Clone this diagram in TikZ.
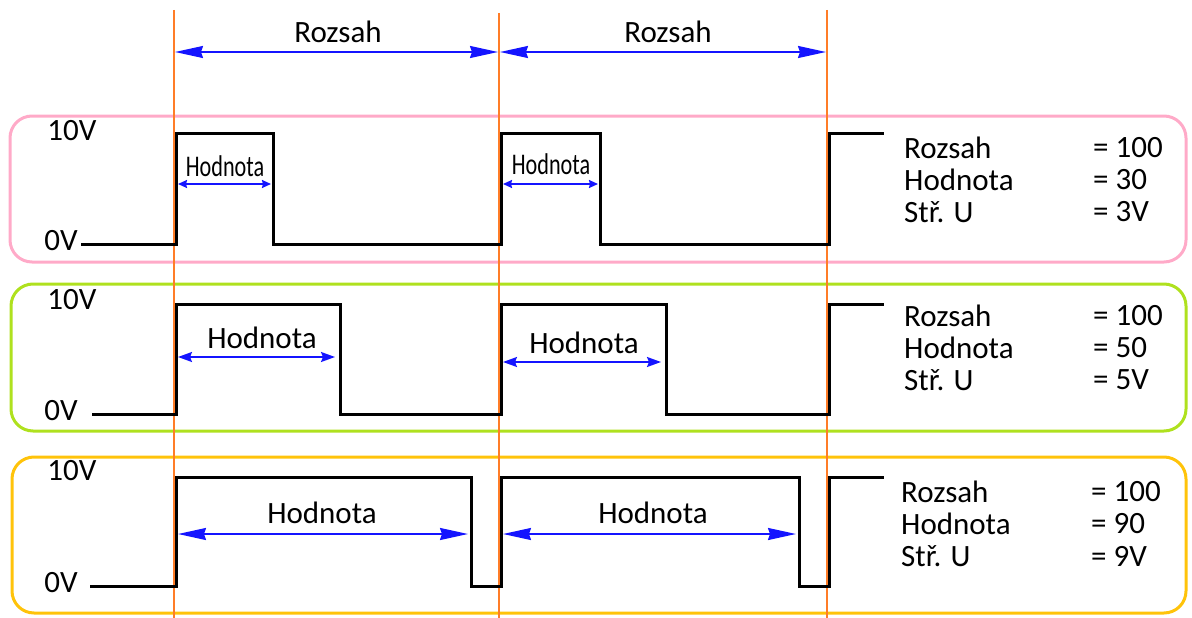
\documentclass[tikz,border=0pt]{standalone}
\usepackage{fontspec}
\setmainfont{Carlito}
\usetikzlibrary{arrows.meta}
\definecolor{mpink}{RGB}{255,170,200}
\definecolor{mgreen}{RGB}{175,225,30}
\definecolor{myellow}{RGB}{255,195,10}
\definecolor{morange}{RGB}{255,125,40}
\definecolor{mblue}{RGB}{20,20,255}
\tikzset{
  frame/.style={line width=3pt, rounded corners=22pt},
  sig/.style={line width=3pt, black, line join=miter},
  guide/.style={morange, line width=1.4pt},
  dimbig/.style={mblue, line width=1.8pt, {Stealth[length=28pt,width=12pt,inset=2pt]}-{Stealth[length=28pt,width=12pt,inset=2pt]}, shorten <=1pt, shorten >=1pt},
  dimmid/.style={mblue, line width=1.8pt, {Stealth[length=14pt,width=10pt,inset=2pt]}-{Stealth[length=14pt,width=10pt,inset=2pt]}, shorten <=1pt, shorten >=1pt},
  dimsmall/.style={mblue, line width=1.8pt, {Stealth[length=9pt,width=8pt,inset=1pt]}-{Stealth[length=9pt,width=8pt,inset=1pt]}, shorten <=1pt, shorten >=1pt},
  lbl/.style={font=\fontsize{31}{33}\selectfont, inner sep=0pt},
  hsmall/.style={font=\fontsize{30}{32}\selectfont, inner sep=0pt, xscale=0.74},
  info/.style={font=\fontsize{31}{33}\selectfont, inner sep=0pt, anchor=west},
}
\begin{document}
\begin{tikzpicture}[x=1pt,y=-1pt]
\useasboundingbox (0,0) rectangle (1192,618);
% frames
\draw[frame, mpink] (10,116) rectangle (1186,262);
\draw[frame, mgreen] (11,284) rectangle (1186,431);
\draw[frame, myellow] (12,457) rectangle (1186,613);
% guides
\coordinate (g1t) at (174,10); \coordinate (g1b) at (174,618);
\coordinate (g2t) at (499,13); \coordinate (g2b) at (499,618);
\coordinate (g3t) at (827,10); \coordinate (g3b) at (827,618);
\draw[guide] (g1t) -- (g1b);
\draw[guide] (g2t) -- (g2b);
\draw[guide] (g3t) -- (g3b);
% top Rozsah
\coordinate (r1a) at (174,52); \coordinate (r1b) at (499,52); \coordinate (r1c) at (827,52);
\draw[dimbig] (r1a) -- (r1b);
\draw[dimbig] (r1b) -- (r1c);
\node[lbl] (rz1) at (338,32) {Rozsah};
\node[lbl] (rz2) at (668,32) {Rozsah};
% ---------- signal 1
\node[lbl] (a10) at (72,131) {10V};
\node[lbl] (a0) at (61,241) {0V};
\draw[sig] (81,244) -- (176,244) -- (176,133) -- (273,133) -- (273,244) -- (501,244) -- (501,133) -- (600,133) -- (600,244) -- (829,244) -- (829,133) -- (884,133);
\coordinate (h1a) at (177,184); \coordinate (h1b) at (272,184);
\coordinate (h1c) at (502,184); \coordinate (h1d) at (599,184);
\draw[dimsmall] (h1a) -- (h1b);
\draw[dimsmall] (h1c) -- (h1d);
\node[hsmall] (hl1) at (225,166) {Hodnota};
\node[hsmall] (hl2) at (551,164) {Hodnota};
\node[info] (i1a) at (904,148) {Rozsah};
\node[info] (i1b) at (904,180) {Hodnota};
\node[info] (i1c) at (904,212) {Stř. U};
\node[info] (v1a) at (1093,148) {= 100};
\node[info] (v1b) at (1093,180) {= 30};
\node[info] (v1c) at (1093,212) {= 3V};
% ---------- signal 2
\node[lbl] (b10) at (72,300) {10V};
\node[lbl] (b0) at (61,411) {0V};
\draw[sig] (92,414) -- (176,414) -- (176,304) -- (340,304) -- (340,414) -- (501,414) -- (501,304) -- (666,304) -- (666,414) -- (829,414) -- (829,304) -- (884,304);
\coordinate (h2a) at (177,357); \coordinate (h2b) at (336,357);
\coordinate (h2c) at (502,362); \coordinate (h2d) at (662,362);
\draw[dimmid] (h2a) -- (h2b);
\draw[dimmid] (h2c) -- (h2d);
\node[lbl] (hl3) at (262,338) {Hodnota};
\node[lbl] (hl4) at (584,343) {Hodnota};
\node[info] (i2a) at (904,316) {Rozsah};
\node[info] (i2b) at (904,348) {Hodnota};
\node[info] (i2c) at (904,380) {Stř. U};
\node[info] (v2a) at (1093,316) {= 100};
\node[info] (v2b) at (1093,348) {= 50};
\node[info] (v2c) at (1093,380) {= 5V};
% ---------- signal 3
\node[lbl] (c10) at (72,471) {10V};
\node[lbl] (c0) at (61,583) {0V};
\draw[sig] (90,586) -- (176,586) -- (176,477) -- (471,477) -- (471,586) -- (501,586) -- (501,477) -- (799,477) -- (799,586) -- (829,586) -- (829,477) -- (884,477);
\coordinate (h3a) at (177,534); \coordinate (h3b) at (469,534);
\coordinate (h3c) at (502,534); \coordinate (h3d) at (797,534);
\draw[dimbig] (h3a) -- (h3b);
\draw[dimbig] (h3c) -- (h3d);
\node[lbl] (hl5) at (322,513) {Hodnota};
\node[lbl] (hl6) at (653,513) {Hodnota};
\node[info] (i3a) at (901,492) {Rozsah};
\node[info] (i3b) at (901,524) {Hodnota};
\node[info] (i3c) at (901,556) {Stř. U};
\node[info] (v3a) at (1091,492) {= 100};
\node[info] (v3b) at (1091,524) {= 90};
\node[info] (v3c) at (1091,556) {= 9V};
\end{tikzpicture}
\end{document}
